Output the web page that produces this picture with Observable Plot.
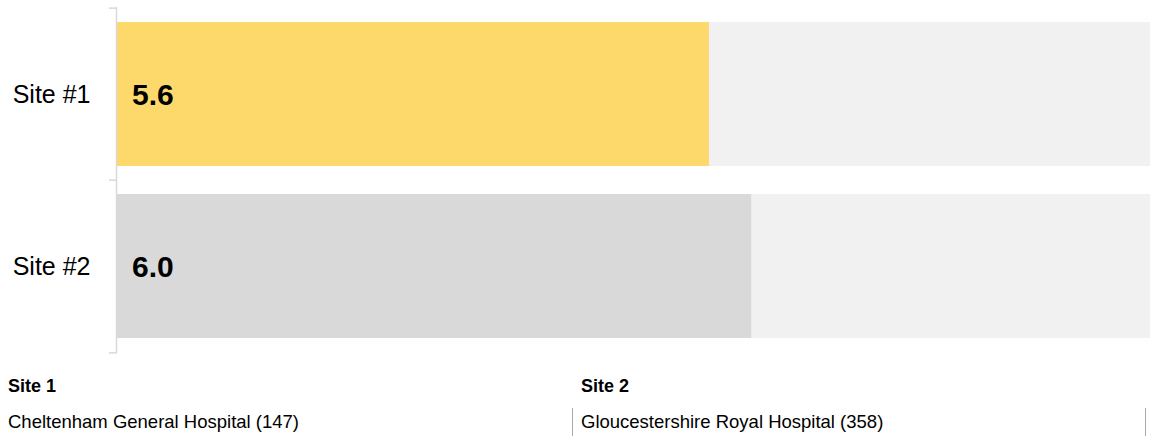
<!DOCTYPE html>
<html>
<head>
<meta charset="utf-8">
<script src="https://cdn.jsdelivr.net/npm/d3@7"></script>
<script src="https://cdn.jsdelivr.net/npm/@observablehq/plot@0.6"></script>
<style>
  html, body { margin: 0; padding: 0; background: #fff; }
  body { width: 1150px; height: 436px; overflow: hidden; font-family: "Liberation Sans", Arial, sans-serif; color: #000; }
  #legend { display: flex; width: 1150px; margin-top: 15px; }
  .col { width: 573px; box-sizing: border-box; }
  .ltitle { font-weight: bold; font-size: 18px; line-height: 22px; padding-left: 8px; height: 22px; }
  .litem { margin-top: 11px; font-size: 18.5px; line-height: 22px; padding: 3px 0 0 8px; height: 30px; box-sizing: border-box; border-right: 1px solid #aaa; }
</style>
</head>
<body>
<div id="chart"></div>
<div id="legend"></div>
<script>
const sites = ["Site #1", "Site #2"];
const scores = [5.6, 6.0];
const maxScore = 10;
const barColors = ["#FDD86B", "#D9D9D9"];
const trackColor = "#F1F1F1";
const axisColor = "#D9D9D9";
const legendTitles = ["Site 1", "Site 2"];
const hospitals = ["Cheltenham General Hospital (147)", "Gloucestershire Royal Hospital (358)"];

const data = sites.map((s, i) => ({site: s, score: scores[i], color: barColors[i], max: maxScore}));

const yRange = [7, 352.5];
const step = (yRange[1] - yRange[0]) / sites.length;

const plot = Plot.plot({
  width: 1150,
  height: 360,
  marginLeft: 117,
  marginRight: 0,
  marginTop: 7,
  marginBottom: 7.5,
  style: {fontFamily: "'Liberation Sans', Arial, sans-serif", color: "#000", background: "#fff"},
  x: {domain: [0, maxScore], range: [117, 117 + 105.7 * maxScore], axis: null},
  y: {domain: sites, range: yRange, paddingInner: 0.1635, paddingOuter: 0.08175, label: null},
  color: {type: "identity"},
  marks: [
    Plot.barX(data, {y: "site", x1: 0, x2: "max", fill: trackColor, clip: true}),
    Plot.barX(data, {y: "site", x: "score", fill: "color", clip: true}),
    Plot.text(data, {y: "site", x: 0, text: d => d.score.toFixed(1), textAnchor: "start", dx: 14.5, dy: 1, fontSize: 30, fontWeight: "bold", fill: "#000"}),
    Plot.ruleX([0], {stroke: axisColor, strokeWidth: 1.5, dx: -1}),
    Plot.axisY({tickSize: 0, tickPadding: 27, fontSize: 25, label: null, fill: "#000"}),
    Plot.axisY({text: null, tickSize: 8, stroke: axisColor, strokeWidth: 1.5, dy: -step / 2, label: null}),
    Plot.axisY([sites[sites.length - 1]], {text: null, tickSize: 8, stroke: axisColor, strokeWidth: 1.5, dy: step / 2, label: null})
  ]
});
document.getElementById("chart").appendChild(plot);

const legend = document.getElementById("legend");
legendTitles.forEach((t, i) => {
  const col = document.createElement("div");
  col.className = "col";
  const h = document.createElement("div");
  h.className = "ltitle";
  h.textContent = t;
  const it = document.createElement("div");
  it.className = "litem";
  it.textContent = hospitals[i];
  col.appendChild(h);
  col.appendChild(it);
  legend.appendChild(col);
});
</script>
</body>
</html>
